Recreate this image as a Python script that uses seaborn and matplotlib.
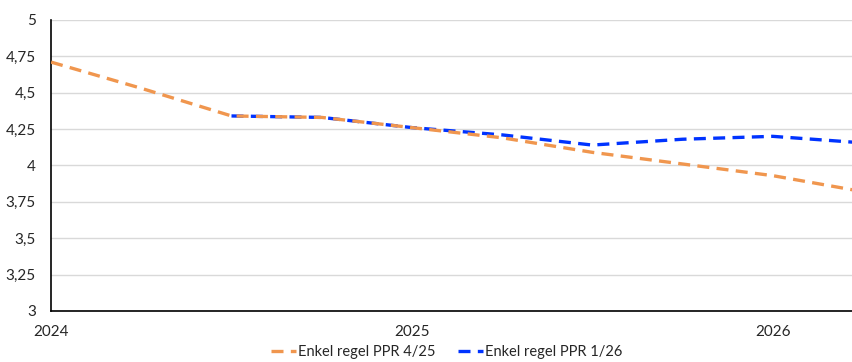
import matplotlib
matplotlib.use('Agg')
import matplotlib.pyplot as plt
import matplotlib.ticker as mticker
import pandas as pd
import seaborn as sns

# quarterly points, x in years
quarters = [2024.0, 2024.25, 2024.5, 2024.75, 2025.0, 2025.25, 2025.5, 2025.75, 2026.0, 2026.25]
ppr_4_25 = [4.71, 4.53, 4.34, 4.33, 4.26, 4.19, 4.09, 4.01, 3.93, 3.82]
ppr_1_26 = [None, None, 4.34, 4.33, 4.26, 4.21, 4.14, 4.18, 4.20, 4.155]

labels = ['Enkel regel PPR 4/25', 'Enkel regel PPR 1/26']
colors = ['#F0964E', '#0033FF']

df = pd.DataFrame({'x': quarters, labels[0]: ppr_4_25, labels[1]: ppr_1_26})

sns.set_style('white')
plt.rcParams['font.family'] = ['Lato', 'DejaVu Sans']

fig = plt.figure(figsize=(8.52, 3.62), dpi=100)
ax = fig.add_axes([0.06, 0.141, 0.94, 0.804])

for name, col, z in zip(labels, colors, [3, 2]):
    sub = df[['x', name]].dropna()
    sns.lineplot(x=sub['x'], y=sub[name], ax=ax, color=col, lw=2.4,
                 label=name, zorder=z)
for line in ax.get_lines():
    line.set_dashes((3.6, 2.2))

ax.set_xlim(2024, 2026.22)
ax.set_ylim(3, 5)
ax.yaxis.set_major_locator(mticker.MultipleLocator(0.25))
ax.yaxis.set_major_formatter(mticker.FuncFormatter(lambda v, p: f'{v:g}'.replace('.', ',')))
ax.set_xticks([2024, 2025, 2026])
ax.set_xticklabels(['2024', '2025', '2026'])
ax.grid(axis='y', color='#D9D9D9', lw=1)
ax.set_axisbelow(True)
ax.set_xlabel('')
ax.set_ylabel('')

for s in ['top', 'right']:
    ax.spines[s].set_visible(False)
for s in ['left', 'bottom']:
    ax.spines[s].set_color('black')
    ax.spines[s].set_linewidth(1.2)

ax.tick_params(axis='y', direction='in', length=4, width=1, labelsize=11, pad=11, color='black')
ax.tick_params(axis='x', direction='in', length=4, width=1, labelsize=11, pad=10, color='black')

handles, lbls = ax.get_legend_handles_labels()
ax.legend(handles, lbls, loc='center', bbox_to_anchor=(0.494, -0.142), ncol=2,
          frameon=False, fontsize=10.5, handlelength=1.7, columnspacing=1.6, handletextpad=0.1,
          borderaxespad=0, borderpad=0)

fig.savefig('out.png', dpi=100)
